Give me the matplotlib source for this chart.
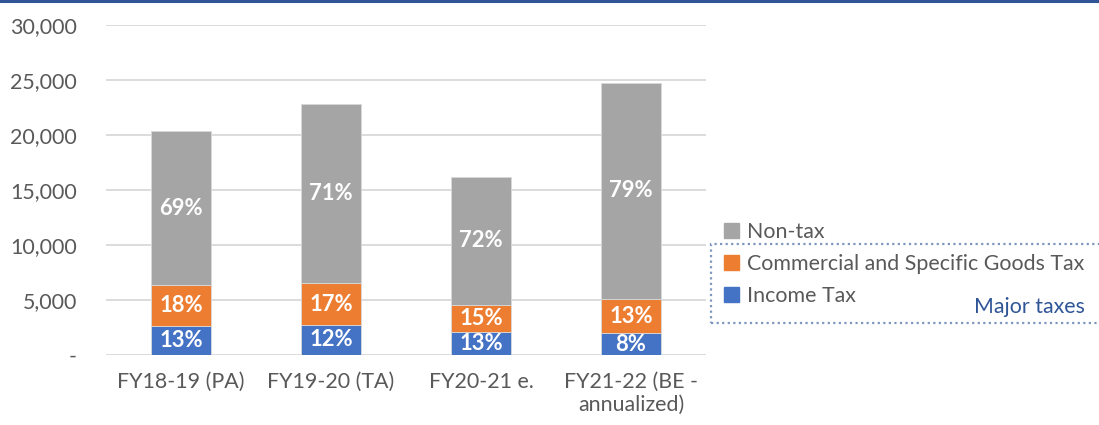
import numpy as np
import matplotlib
matplotlib.use("Agg")
import matplotlib.pyplot as plt
from matplotlib.patches import Rectangle, Patch
from matplotlib.ticker import FuncFormatter

# Revenue by source (million), stacked bottom to top
categories = ["FY18-19 (PA)", "FY19-20 (TA)", "FY20-21 e.", "FY21-22 (BE -\nannualized)"]
income_tax = [2670, 2730, 2060, 1970]
commercial_tax = [3690, 3790, 2490, 3150]
non_tax = [14000, 16280, 11660, 19640]

series_names = ["Income Tax", "Commercial and Specific Goods Tax", "Non-tax"]
series_colors = ["#4472C4", "#ED7D31", "#A5A5A5"]

TEXT_GREY = "#595959"
DARK_BLUE = "#2F5597"
FS = 15.4

plt.rcParams["font.family"] = ["Lato", "DejaVu Sans"]

fig = plt.figure(figsize=(10.99, 4.25), dpi=100)
ax = fig.add_axes([0.0965, 0.1647, 0.5459, 0.7765])

x = np.arange(len(categories))
layers = [np.array(income_tax), np.array(commercial_tax), np.array(non_tax)]
totals = sum(layers)
bottom = np.zeros(len(categories))
for values, name, color in zip(layers, series_names, series_colors):
    ax.bar(x, values, bottom=bottom, width=0.4, color=color, label=name,
           edgecolor="#D9D9D9", linewidth=0.6, zorder=3)
    # share of total, written in the middle of each segment
    for xi, b, v, t in zip(x, bottom, values, totals):
        ax.text(xi, b + v / 2, f"{v / t:.0%}", ha="center", va="center",
                color="white", fontsize=FS + 0.4, fontweight="bold", zorder=4)
    bottom = bottom + values

ax.set_xlim(-0.5, len(categories) - 0.5)
ax.set_ylim(0, 30000)
ax.set_yticks(np.arange(0, 30001, 5000))
ax.yaxis.set_major_formatter(FuncFormatter(lambda v, _: "-" if v == 0 else f"{v:,.0f}"))
ax.set_xticks(x)
ax.set_xticklabels(categories)
ax.grid(axis="y", color="#D9D9D9", linewidth=1.3, zorder=0)
for side in ax.spines.values():
    side.set_visible(False)
ax.tick_params(axis="y", length=0, pad=21, labelsize=FS, labelcolor=TEXT_GREY)
ax.tick_params(axis="x", length=0, pad=12, labelsize=FS, labelcolor=TEXT_GREY)

# legend, non-tax on top
handles = [Patch(color=c) for c in series_colors][::-1]
ax.legend(handles, series_names[::-1], loc="center left",
          bbox_to_anchor=(724 / 1099, 1 - 264 / 425), bbox_transform=fig.transFigure,
          frameon=False, fontsize=FS, labelcolor=TEXT_GREY,
          handlelength=0.68, handleheight=0.68, handletextpad=0.4,
          labelspacing=0.55, borderaxespad=0, borderpad=0)

# dotted box grouping the two tax series
fig.patches.append(Rectangle((711 / 1099, 1 - 323 / 425), 500 / 1099, 79 / 425,
                             transform=fig.transFigure, fill=False,
                             edgecolor="#7F97BF", linestyle=(0, (1, 1.5)),
                             linewidth=1.6))
fig.text(1085 / 1099, 1 - 307 / 425, "Major taxes", ha="right", va="center",
         color=DARK_BLUE, fontsize=FS)

# rule across the top
fig.add_artist(plt.Line2D([0, 1], [0.997, 0.997], transform=fig.transFigure,
                          color=DARK_BLUE, linewidth=2.2))

fig.savefig("out.png", dpi=100)
